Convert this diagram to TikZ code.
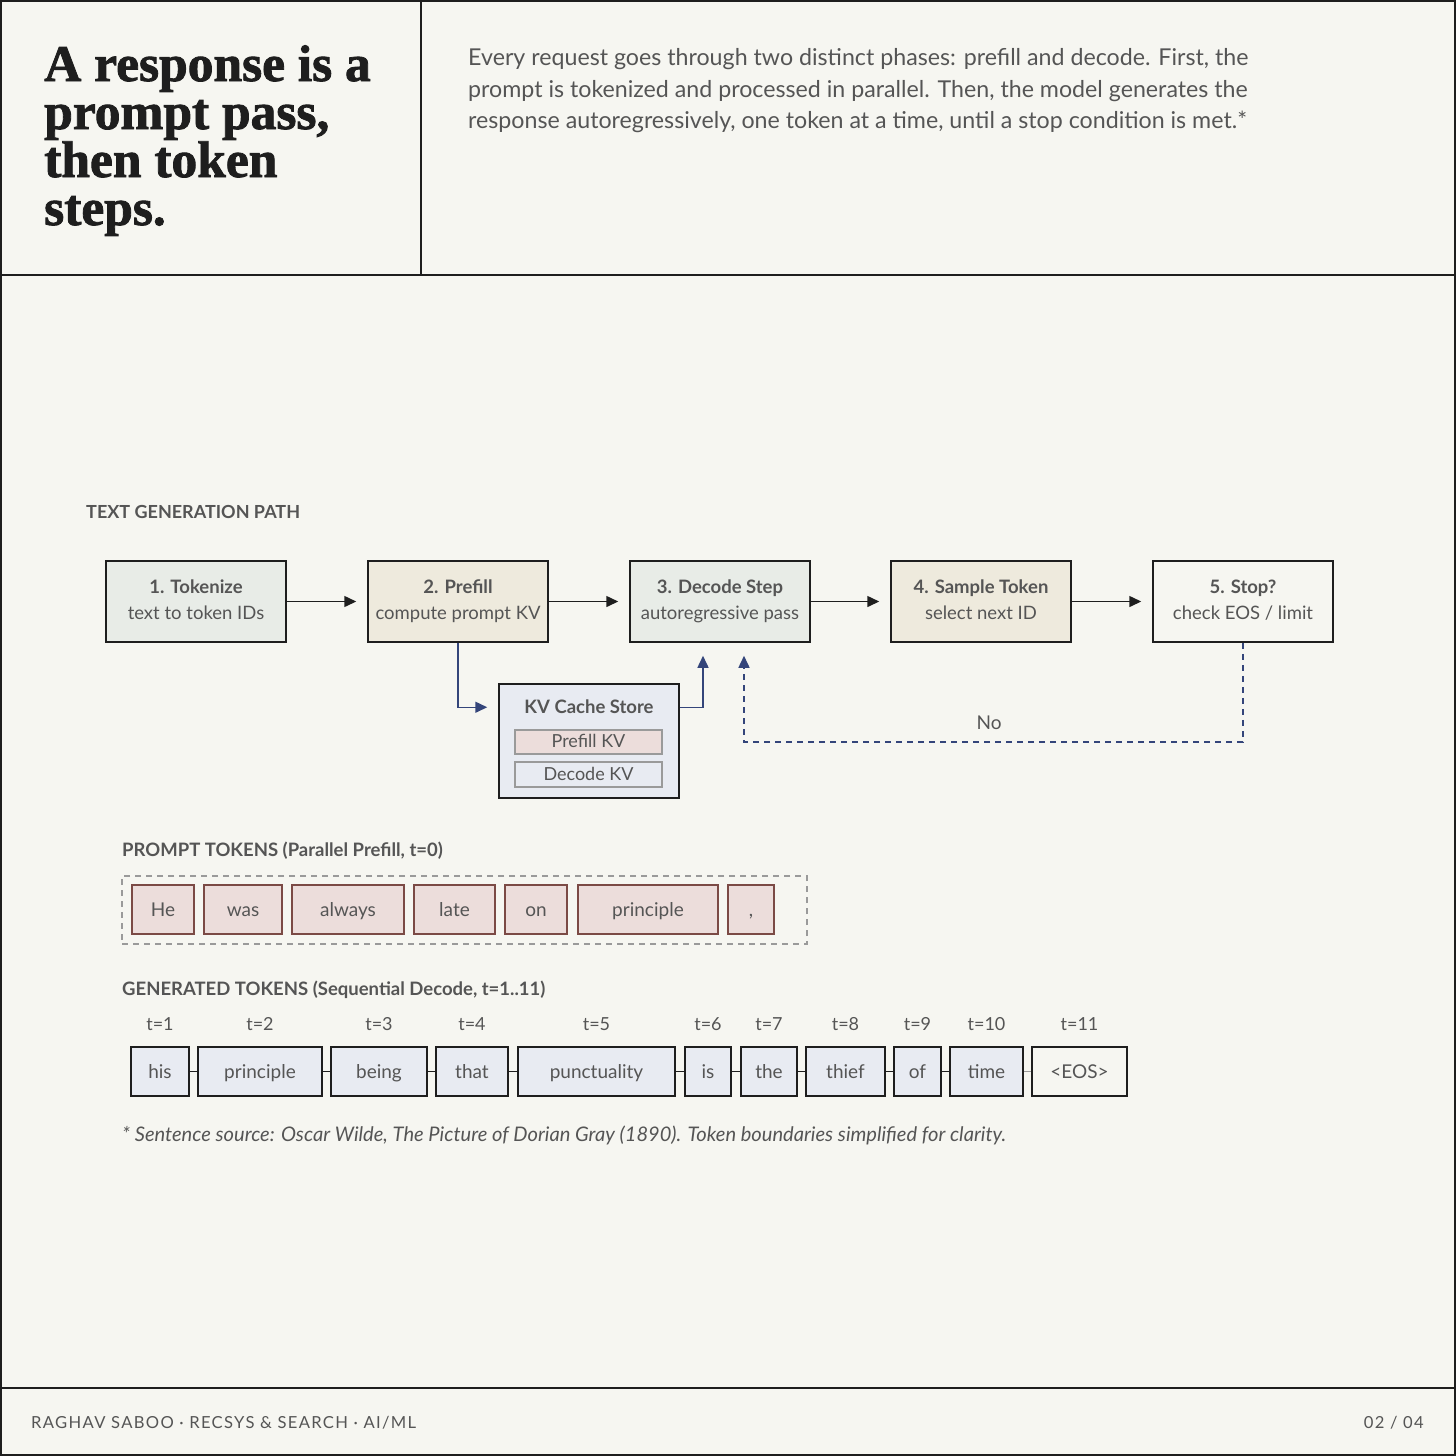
\documentclass[tikz,border=0pt]{standalone}
\usepackage{fontspec}
\setmainfont{Lato}
\newfontfamily\titlefont{Liberation Serif}[FakeBold=1.6]
\usetikzlibrary{arrows.meta,calc}
\definecolor{bg}{HTML}{F6F6F1}
\definecolor{ink}{HTML}{1E1E1E}
\definecolor{txt}{HTML}{555555}
\definecolor{greenf}{HTML}{E8ECE7}
\definecolor{beigef}{HTML}{EEEADD}
\definecolor{bluef}{HTML}{E8EBF2}
\definecolor{pinkf}{HTML}{ECDDDB}
\definecolor{pinkd}{HTML}{7B4A45}
\definecolor{navy}{HTML}{34457A}
\definecolor{dashgray}{HTML}{9A9A9A}
\newcommand\lnstrut{\vphantom{Tgy}}
\begin{document}
\begin{tikzpicture}[x=1pt,y=-1pt,
  frame/.style={draw=ink,line width=1.5pt},
  flowbox/.style={draw=ink,line width=1.5pt,minimum width=180pt,minimum height=81pt,inner sep=0pt,align=center,text=txt,font=\fontsize{18.5}{26}\selectfont},
  arr/.style={draw=ink,line width=1.5pt,-{Triangle[length=12pt,width=11pt]}},
  navyarr/.style={draw=navy,line width=1.5pt,-{Triangle[length=12pt,width=11pt]}},
  ptok/.style={draw=pinkd,line width=1.2pt,fill=pinkf,minimum height=49pt,inner sep=0pt,text height=15pt,text depth=2pt,text=txt,font=\fontsize{19}{20}\selectfont},
  gtok/.style={draw=ink,line width=1.5pt,fill=bluef,minimum height=49pt,inner sep=0pt,text height=15pt,text depth=2pt,text=txt,font=\fontsize{19}{20}\selectfont},
  tlab/.style={text=txt,font=\fontsize{18}{20}\selectfont},
  seclab/.style={anchor=base west,text=txt,font=\bfseries\fontsize{18.5}{20}\selectfont,inner sep=0pt},
  ttl/.style={anchor=base west,inner sep=0pt,text=ink,font=\titlefont\bfseries\fontsize{51.5}{50}\selectfont},
  desc/.style={anchor=base west,inner sep=0pt,text=txt,font=\fontsize{23.2}{24}\selectfont},
  link/.style={draw=ink,line width=1.5pt}
]
\fill[bg] (0,0) rectangle (1456,1456);
\useasboundingbox (0,0) rectangle (1456,1456);
\draw[frame] (1,1) rectangle (1455,1455);
\draw[frame] (0,275) -- (1456,275);
\draw[frame] (421,0) -- (421,275);
\draw[frame] (0,1388) -- (1456,1388);

% title
\node[ttl] (ttlA) at (44,81) {A response is a};
\node[ttl] (ttlB) at (44,129) {prompt pass,};
\node[ttl] (ttlC) at (44,177) {then token};
\node[ttl] (ttlD) at (44,225) {steps.};

% description
\node[desc] (dA) at (468,65) {Every request goes through two distinct phases: prefill and decode. First, the};
\node[desc] (dB) at (468,97) {prompt is tokenized and processed in parallel. Then, the model generates the};
\node[desc] (dC) at (468,128) {response autoregressively, one token at a time, until a stop condition is met.*};

% flow
\node[seclab,font=\bfseries\fontsize{18}{20}\selectfont] (lpath) at (86,518) {TEXT GENERATION PATH};
\node[flowbox,fill=greenf] (tok) at (196,601.5) {{\bfseries 1. Tokenize\lnstrut}\\text to token IDs\lnstrut};
\node[flowbox,fill=beigef] (pre) at (458,601.5) {{\bfseries 2. Prefill\lnstrut}\\compute prompt KV\lnstrut};
\node[flowbox,fill=greenf] (dec) at (720,601.5) {{\bfseries 3. Decode Step\lnstrut}\\autoregressive pass\lnstrut};
\node[flowbox,fill=beigef] (smp) at (981,601.5) {{\bfseries 4. Sample Token\lnstrut}\\select next ID\lnstrut};
\node[flowbox,fill=bg] (stp) at (1243,601.5) {{\bfseries 5. Stop?\lnstrut}\\check EOS / limit\lnstrut};
\draw[arr] (tok.east) -- ([xshift=-11pt]pre.west);
\draw[arr] (pre.east) -- ([xshift=-11pt]dec.west);
\draw[arr] (dec.east) -- ([xshift=-11pt]smp.west);
\draw[arr] (smp.east) -- ([xshift=-11pt]stp.west);

% KV cache
\node[draw=ink,line width=1.5pt,fill=bluef,minimum width=180pt,minimum height=114pt,inner sep=0pt] (kv) at (589,741) {};
\node[text=txt,font=\bfseries\fontsize{18.5}{20}\selectfont] (kvt) at (589,707) {KV Cache Store};
\node[draw=dashgray,line width=1.2pt,fill=pinkf,minimum width=147pt,minimum height=24pt,inner sep=0pt,text height=13pt,text depth=2pt,text=txt,font=\fontsize{18}{20}\selectfont] (kvp) at (588.5,742) {Prefill KV};
\node[draw=dashgray,line width=1.2pt,fill=bluef,minimum width=147pt,minimum height=25pt,inner sep=0pt,text height=13pt,text depth=2pt,text=txt,font=\fontsize{18}{20}\selectfont] (kvd) at (588.5,774.5) {Decode KV};
\draw[navyarr] (pre.south) |- ($(kv.north west)+(-11,24)$);
\draw[navyarr] ($(kv.north east)+(0,24)$) -| ([xshift=-17pt,yshift=-13pt]dec.south);
\draw[navyarr,dash pattern=on 6pt off 5pt] (stp.south) -- ++(0,99) -| ([xshift=24pt,yshift=-13pt]dec.south);
\node[text=txt,font=\fontsize{19}{20}\selectfont] (no) at (989,723) {No};

% prompt tokens
\node[seclab] (lprompt) at (122,856) {PROMPT TOKENS (Parallel Prefill, t=0)};
\node[draw=dashgray,line width=1.2pt,dash pattern=on 6pt off 5pt,minimum width=685pt,minimum height=68pt,inner sep=0pt] (pbox) at (464.5,910) {};
\node[ptok,minimum width=62pt] (p1) at (163,909.5) {He};
\node[ptok,minimum width=78pt] (p2) at (243,909.5) {was};
\node[ptok,minimum width=112pt] (p3) at (348,909.5) {always};
\node[ptok,minimum width=81pt] (p4) at (454.5,909.5) {late};
\node[ptok,minimum width=62pt] (p5) at (536,909.5) {on};
\node[ptok,minimum width=140pt] (p6) at (648,909.5) {principle};
\node[ptok,minimum width=46pt] (p7) at (751,909.5) {,};

% generated tokens
\node[seclab] (lgen) at (122,995) {GENERATED TOKENS (Sequential Decode, t=1..11)};
\node[gtok,minimum width=58pt] (g1) at (160,1071.5) {his};
\node[gtok,minimum width=124pt] (g2) at (260,1071.5) {principle};
\node[gtok,minimum width=96pt] (g3) at (379,1071.5) {being};
\node[gtok,minimum width=72pt] (g4) at (472,1071.5) {that};
\node[gtok,minimum width=157pt] (g5) at (596.5,1071.5) {punctuality};
\node[gtok,minimum width=46pt] (g6) at (708,1071.5) {is};
\node[gtok,minimum width=56pt] (g7) at (769,1071.5) {the};
\node[gtok,minimum width=79pt] (g8) at (845.5,1071.5) {thief};
\node[gtok,minimum width=47pt] (g9) at (917.5,1071.5) {of};
\node[gtok,minimum width=73pt] (g10) at (986.5,1071.5) {time};
\node[gtok,minimum width=95pt,fill=bg] (g11) at (1079.5,1071.5) {<EOS>};
\draw[link] (g1.east) -- (g2.west);
\draw[link] (g2.east) -- (g3.west);
\draw[link] (g3.east) -- (g4.west);
\draw[link] (g4.east) -- (g5.west);
\draw[link] (g5.east) -- (g6.west);
\draw[link] (g6.east) -- (g7.west);
\draw[link] (g7.east) -- (g8.west);
\draw[link] (g8.east) -- (g9.west);
\draw[link] (g9.east) -- (g10.west);
\draw[draw=dashgray,line width=1.2pt] (g10.east) -- (g11.west);
\foreach \g/\t in {g1/1,g2/2,g3/3,g4/4,g5/5,g6/6,g7/7,g8/8,g9/9,g10/10,g11/11}
  \node[tlab] (lab\g) at (\g.north |- 0,1024) {t=\t};

% footnote
\node[anchor=base west,inner sep=0pt,text=txt,font=\itshape\fontsize{20.1}{20}\selectfont] (fn) at (122,1141) {* Sentence source: Oscar Wilde, The Picture of Dorian Gray (1890). Token boundaries simplified for clarity.};

% footer
\node[anchor=base west,inner sep=0pt,text=txt,font=\fontsize{16.6}{18}\selectfont\addfontfeature{LetterSpace=8}] (fl) at (31,1428) {RAGHAV SABOO · RECSYS \& SEARCH · AI/ML};
\node[anchor=base east,inner sep=0pt,text=txt,font=\fontsize{16.6}{18}\selectfont\addfontfeature{LetterSpace=8}] (fr) at (1424,1428) {02 / 04};
\end{tikzpicture}
\end{document}
